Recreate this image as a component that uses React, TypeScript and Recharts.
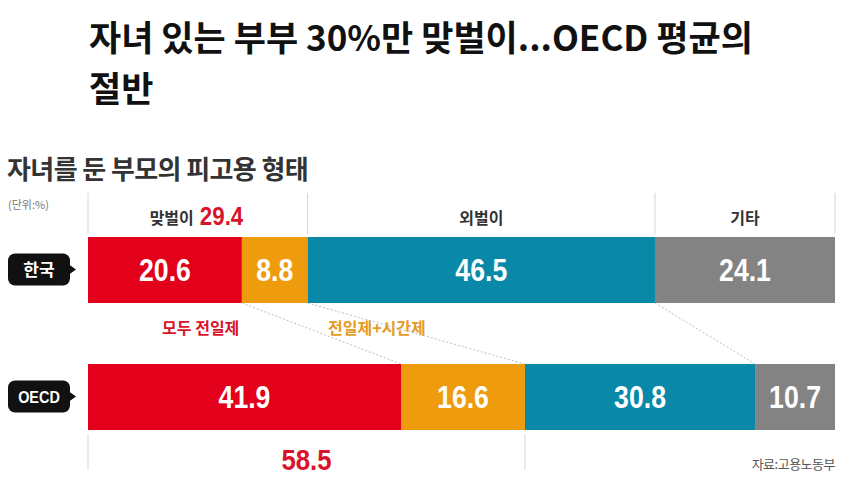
import React from 'react';
import { BarChart, Bar, XAxis, YAxis, LabelList } from 'recharts';

const categories = ['한국', 'OECD'];
const fullTime = [20.6, 41.9]; // 모두 전일제
const fullPart = [8.8, 16.6]; // 전일제+시간제
const single = [46.5, 30.8]; // 외벌이
const other = [24.1, 10.7]; // 기타
const dualTotal = [29.4, 58.5]; // 맞벌이 합계

const data = categories.map((name, i) => ({
  name,
  fullTime: fullTime[i],
  fullPart: fullPart[i],
  single: single[i],
  other: other[i],
}));

const KEYS = ['fullTime', 'fullPart', 'single', 'other'];
const COLORS: Record<string, string> = {
  fullTime: '#e2001a',
  fullPart: '#ee9c0d',
  single: '#0989a7',
  other: '#838383',
};

const W = 850;
const H = 497;
const MARGIN = { top: 206, right: 15, bottom: 37, left: 8 };
const PLOT_H = H - MARGIN.top - MARGIN.bottom;
const BAND = PLOT_H / categories.length;

const KR = "'Noto Sans CJK KR', 'Noto Sans', sans-serif";
const NUM = "'Liberation Sans', Arial, sans-serif";

const cumBefore = (row: any, key: string) => {
  let c = 0;
  for (const k of KEYS) {
    if (k === key) break;
    c += row[k];
  }
  return c;
};

const korRow = data[0];

// condensed bold number, like the newspaper typeface
const Num = ({ x, y, size, fill, anchor = 'middle' }: any) => (v: string) => (
  <text
    transform={`translate(${x},${y}) scale(0.86,1)`}
    textAnchor={anchor}
    fontFamily={NUM}
    fontSize={size}
    fontWeight={700}
    fill={fill}
  >
    {v}
  </text>
);

function segShape(key: string) {
  return (p: any) => {
    const { x, y, width, height, payload } = p;
    const s = width / payload[key];
    const x0 = x - cumBefore(payload, key) * s;
    const xAt = (v: number) => x0 + v * s;
    const els: React.ReactNode[] = [
      <rect key="r" x={x} y={y} width={width} height={height} fill={COLORS[key]} />,
    ];
    const guide = { stroke: '#d6d6d6', strokeWidth: 1 };
    if (payload.name === categories[0]) {
      const t1 = y - 44;
      const t2 = y - 3;
      if (key !== 'fullPart') els.push(<line key="g1" x1={x} x2={x} y1={t1} y2={t2} {...guide} />);
      if (key === 'other') els.push(<line key="g2" x1={x + width} x2={x + width} y1={t1} y2={t2} {...guide} />);
      const ly = y - 13;
      if (key === 'fullTime') {
        const cx = xAt(dualTotal[0] / 2);
        els.push(
          <text key="h1" x={cx - 4} y={ly} textAnchor="end" fontFamily={KR} fontSize={16} fontWeight={700} fill="#333">
            맞벌이
          </text>
        );
        els.push(<g key="h2">{Num({ x: cx + 2, y: ly + 1, size: 26, fill: '#d8142b', anchor: 'start' })(dualTotal[0].toFixed(1))}</g>);
      }
      if (key === 'single')
        els.push(<text key="h" x={x + width / 2} y={ly} textAnchor="middle" fontFamily={KR} fontSize={16} fontWeight={700} fill="#333">외벌이</text>);
      if (key === 'other')
        els.push(<text key="h" x={x + width / 2} y={ly} textAnchor="middle" fontFamily={KR} fontSize={16} fontWeight={700} fill="#333">기타</text>);
    } else {
      const bottom = y + height;
      if (key === 'fullTime' || key === 'single')
        els.push(<line key="f" x1={x} x2={x} y1={bottom + 4} y2={bottom + 40} {...guide} />);
      const korTop = y - BAND;
      const korBottom = korTop + height;
      const midY = (korBottom + y) / 2;
      if (key === 'fullTime') {
        els.push(<g key="t">{Num({ x: xAt(dualTotal[1] / 2), y: bottom + 40, size: 30, fill: '#d8142b' })(dualTotal[1].toFixed(1))}</g>);
        const korC = xAt(korRow.fullTime / 2);
        els.push(
          <text key="l" x={(korC + x + width / 2) / 2 - 4} y={midY} textAnchor="middle" fontFamily={KR} fontSize={16} fontWeight={700} fill="#d8142b">
            모두 전일제
          </text>
        );
      } else {
        const kx = xAt(cumBefore(korRow, key));
        els.push(<line key="c" x1={kx} y1={korBottom} x2={x} y2={y} stroke="#bdbdbd" strokeWidth={1} strokeDasharray="2 2" />);
      }
      if (key === 'fullPart') {
        const korC = xAt(korRow.fullTime + korRow.fullPart / 2);
        els.push(
          <text key="l" x={(korC + x + width / 2) / 2 + 8} y={midY} textAnchor="middle" fontFamily={KR} fontSize={16} fontWeight={700} fill="#e69a1e">
            전일제+시간제
          </text>
        );
      }
    }
    return <g>{els}</g>;
  };
}

const ValueLabel = (props: any) => {
  const { x, y, width, height, value } = props;
  return Num({ x: x + width / 2, y: y + height / 2 + 11, size: 31, fill: '#fff' })(Number(value).toFixed(1));
};

const CategoryTick = (props: any) => {
  const { y, payload } = props;
  const isKr = payload.value === categories[0];
  return (
    <g>
      <rect x={8} y={y - 16} width={62} height={32} rx={7} fill="#111" />
      <path d={`M69 ${y - 5} L76 ${y} L69 ${y + 5} Z`} fill="#111" />
      {isKr ? (
        <text x={39} y={y + 6} textAnchor="middle" fill="#fff" fontSize={17} fontWeight={700} fontFamily={KR}>
          {payload.value}
        </text>
      ) : (
        <text transform={`translate(39,${y + 6}) scale(0.85,1)`} textAnchor="middle" fill="#fff" fontSize={17} fontWeight={700} fontFamily={NUM}>
          {payload.value}
        </text>
      )}
    </g>
  );
};

const titleStyle: React.CSSProperties = {
  position: 'absolute',
  left: 89,
  fontFamily: KR,
  fontSize: 35,
  fontWeight: 700,
  color: '#111',
  whiteSpace: 'nowrap',
};

export default function App() {
  return (
    <div style={{ position: 'absolute', left: 0, top: 0, width: W, height: H, background: '#fff', overflow: 'hidden' }}>
      <div style={{ ...titleStyle, top: 10 }}>자녀 있는 부부 30%만 맞벌이...OECD 평균의</div>
      <div style={{ ...titleStyle, top: 61 }}>절반</div>
      <div style={{ position: 'absolute', left: 7, top: 149, fontFamily: KR, fontSize: 26, fontWeight: 700, color: '#333', letterSpacing: -0.6, whiteSpace: 'nowrap' }}>
        자녀를 둔 부모의 피고용 형태
      </div>
      <div style={{ position: 'absolute', left: 8, top: 196, fontFamily: KR, fontSize: 11, color: '#777' }}>(단위:%)</div>
      <div style={{ position: 'absolute', right: 15, top: 454, fontFamily: KR, fontSize: 13, color: '#555', letterSpacing: -0.5 }}>자료:고용노동부</div>
      <div style={{ position: 'absolute', left: 0, top: 0 }}>
        <BarChart width={W} height={H} data={data} layout="vertical" margin={MARGIN} barSize={66}>
          <XAxis type="number" domain={[0, 100]} hide />
          <YAxis type="category" dataKey="name" width={80} axisLine={false} tickLine={false} tick={<CategoryTick />} />
          {KEYS.map((k) => (
            <Bar key={k} dataKey={k} stackId="a" fill={COLORS[k]} shape={segShape(k)} isAnimationActive={false}>
              <LabelList dataKey={k} content={<ValueLabel />} />
            </Bar>
          ))}
        </BarChart>
      </div>
    </div>
  );
}
